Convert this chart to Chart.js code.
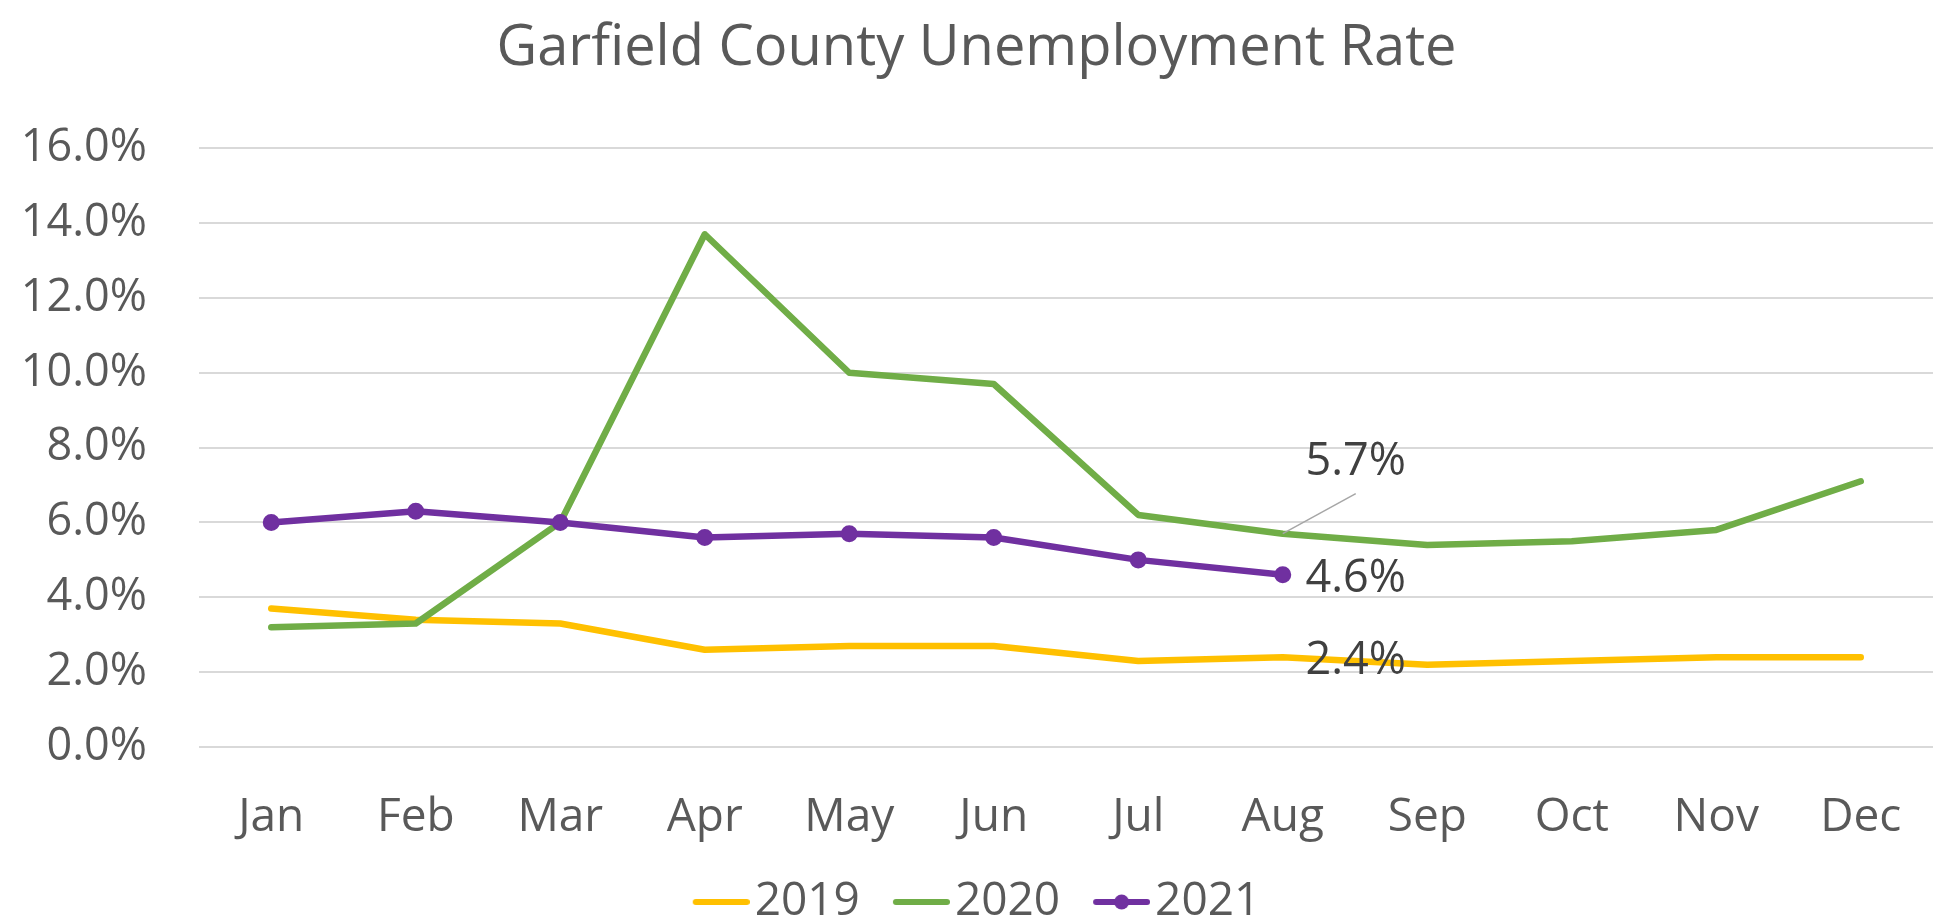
<!DOCTYPE html>
<html>
<head>
<meta charset="utf-8">
<script src="https://cdn.jsdelivr.net/npm/chart.js@4/dist/chart.umd.min.js"></script>
<style>
  html, body { margin: 0; padding: 0; background: #fff; }
  canvas { display: block; }
</style>
</head>
<body>
<canvas id="lineChart" width="1946" height="923"></canvas>
<script>
// data (percent)
var months = ["Jan", "Feb", "Mar", "Apr", "May", "Jun", "Jul", "Aug", "Sep", "Oct", "Nov", "Dec"];
var rate2019 = [3.7, 3.4, 3.3, 2.6, 2.7, 2.7, 2.3, 2.4, 2.2, 2.3, 2.4, 2.4];
var rate2020 = [3.2, 3.3, 6.0, 13.7, 10.0, 9.7, 6.2, 5.7, 5.4, 5.5, 5.8, 7.1];
var rate2021 = [6.0, 6.3, 6.0, 5.6, 5.7, 5.6, 5.0, 4.6];
var yTicks = [0, 2, 4, 6, 8, 10, 12, 14, 16];

var FONT = "'Open Sans', 'DejaVu Sans', sans-serif";
var TEXT = '#595959';

// legend icons: short line (and dot), drawn a bit wider than the legend box
function legendIcon(color, dot) {
    var c = document.createElement('canvas');
    c.width = 75;
    c.height = 20;
    var g = c.getContext('2d');
    g.strokeStyle = color;
    g.lineWidth = 6;
    g.lineCap = 'round';
    g.beginPath();
    g.moveTo(21, 10);
    g.lineTo(72, 10);
    g.stroke();
    if (dot) {
        g.fillStyle = color;
        g.beginPath();
        g.arc(46.5, 10, 7.5, 0, Math.PI * 2);
        g.fill();
    }
    return c;
}

var icons = [legendIcon('#FFC000'), legendIcon('#70AD47'), legendIcon('#7030A0', true)];

// Aug value labels like the Excel data labels
var valueLabels = {
    id: 'valueLabels',
    afterDatasetsDraw: function (chart) {
        var ctx = chart.ctx;
        var idx = 7;
        ctx.save();
        ctx.font = '45px ' + FONT;
        ctx.fillStyle = '#404040';
        ctx.textAlign = 'center';
        ctx.textBaseline = 'middle';
        chart.data.datasets.forEach(function (ds, d) {
            var pt = chart.getDatasetMeta(d).data[idx];
            if (!pt) return;
            var txt = ds.data[idx].toFixed(1) + '%';
            if (d === 1) {
                // label placed above-right with a leader line
                ctx.strokeStyle = '#a6a6a6';
                ctx.lineWidth = 1.5;
                ctx.beginPath();
                ctx.moveTo(pt.x, pt.y);
                ctx.lineTo(pt.x + 73, pt.y - 40);
                ctx.stroke();
                ctx.fillText(txt, pt.x + 73, pt.y - 71);
            } else {
                ctx.fillText(txt, pt.x + 73, pt.y + 4);
            }
        });
        ctx.restore();
    }
};

var ctxL = document.getElementById("lineChart").getContext('2d');
var myLineChart = new Chart(ctxL, {
    type: 'line',
    data: {
        labels: months,
        datasets: [{
            label: "2019",
            data: rate2019,
            borderColor: '#FFC000',
            backgroundColor: '#FFC000',
            borderWidth: 6.5,
            pointRadius: 0,
            order: 3
        }, {
            label: "2020",
            data: rate2020,
            borderColor: '#70AD47',
            backgroundColor: '#70AD47',
            borderWidth: 6.5,
            pointRadius: 0,
            order: 2
        }, {
            label: "2021",
            data: rate2021,
            borderColor: '#7030A0',
            backgroundColor: '#7030A0',
            borderWidth: 6.5,
            pointRadius: 7.5,
            pointBorderWidth: 2,
            order: 1
        }]
    },
    options: {
        responsive: false,
        animation: false,
        devicePixelRatio: 1,
        layout: { padding: { left: 20, right: 13, top: 0, bottom: -12 } },
        elements: {
            line: { tension: 0, borderCapStyle: 'round', borderJoinStyle: 'round' }
        },
        plugins: {
            title: {
                display: true,
                text: 'Garfield County Unemployment Rate',
                color: TEXT,
                font: { family: FONT, size: 56, weight: 'normal' },
                padding: { top: 15, bottom: 66 }
            },
            legend: {
                position: 'bottom',
                labels: {
                    color: TEXT,
                    font: { family: FONT, size: 46 },
                    usePointStyle: true,
                    pointStyleWidth: 39,
                    padding: 33,
                    sort: function (a, b) { return a.datasetIndex - b.datasetIndex; },
                    generateLabels: function (chart) {
                        return chart.data.datasets.map(function (ds, i) {
                            return {
                                text: ds.label,
                                fontColor: TEXT,
                                pointStyle: icons[i],
                                lineWidth: 0,
                                strokeStyle: 'rgba(0,0,0,0)',
                                fillStyle: 'rgba(0,0,0,0)',
                                datasetIndex: i
                            };
                        });
                    }
                }
            },
            tooltip: { enabled: false }
        },
        scales: {
            x: {
                offset: true,
                afterFit: function (axis) { axis.height = 99; },
                grid: { display: false, drawTicks: false },
                border: { display: false },
                ticks: {
                    color: TEXT,
                    font: { family: FONT, size: 46 },
                    padding: 43,
                    maxRotation: 0
                }
            },
            y: {
                min: yTicks[0],
                max: yTicks[yTicks.length - 1],
                afterBuildTicks: function (axis) {
                    axis.ticks = yTicks.map(function (v) { return { value: v }; });
                },
                afterFit: function (axis) { axis.width = 179; },
                grid: { color: '#d9d9d9', lineWidth: 2, drawTicks: false },
                border: { display: false },
                ticks: {
                    color: TEXT,
                    font: { family: FONT, size: 45 },
                    padding: 52,
                    callback: function (v) { return v.toFixed(1) + '%'; }
                }
            }
        }
    },
    plugins: [valueLabels]
});
</script>
</body>
</html>
